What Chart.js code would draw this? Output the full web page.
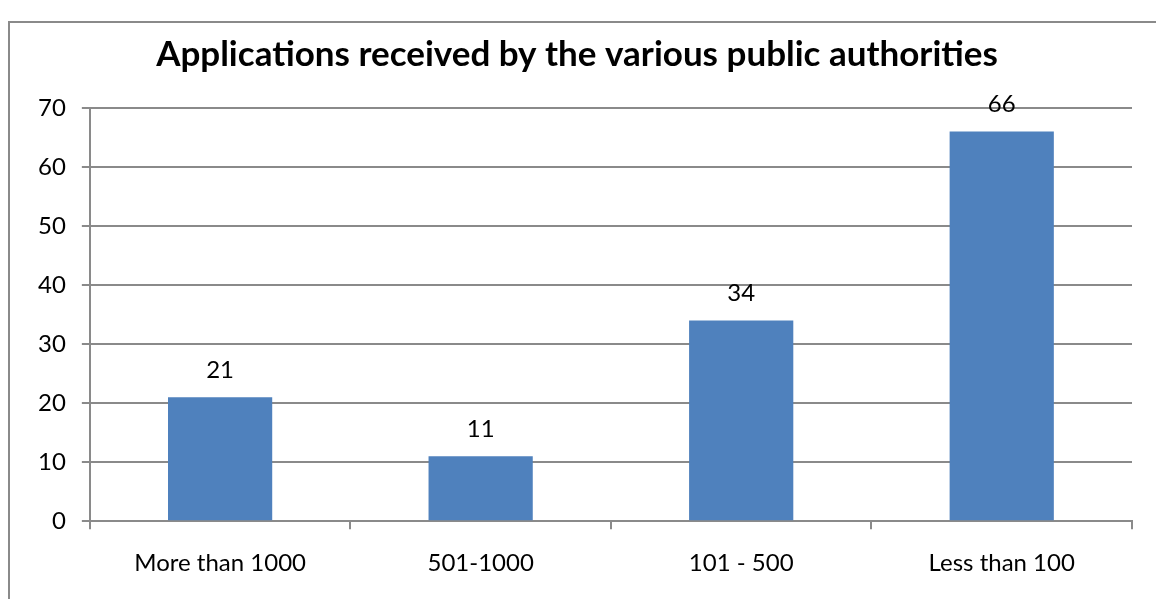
<!DOCTYPE html>
<html>
<head>
<meta charset="utf-8">
<script src="https://cdn.jsdelivr.net/npm/chart.js@4"></script>
<style>
  html, body { margin: 0; padding: 0; background: #fff; overflow: hidden; }
  #frame { position: absolute; left: 8px; top: 21px; width: 1200px; height: 700px; border: 2px solid #8a8a8a; box-sizing: border-box; }
  #wrap { position: absolute; left: 0; top: 0; width: 1156px; height: 599px; }
</style>
</head>
<body>
<div id="frame"></div>
<div id="wrap"><canvas id="barChart"></canvas></div>
<script>
// categories and values
var categories = ["More than 1000", "501-1000", "101 - 500", "Less than 100"];
var applications = [21, 11, 34, 66];
var yTicks = [0, 10, 20, 30, 40, 50, 60, 70];
var barColor = "#4f81bd";
var fontName = "Lato";

// draw the number above each bar
var valueLabels = {
    id: "valueLabels",
    afterDatasetsDraw: function (chart) {
        var ctx = chart.ctx;
        var meta = chart.getDatasetMeta(0);
        ctx.save();
        ctx.font = "24px " + fontName;
        ctx.fillStyle = "#000";
        ctx.textAlign = "center";
        ctx.textBaseline = "middle";
        meta.data.forEach(function (bar, i) {
            ctx.fillText(String(applications[i]), bar.x, bar.y - 27);
        });
        ctx.restore();
    }
};

new Chart("barChart", {
    type: "bar",
    data: {
        labels: categories,
        datasets: [{
            data: applications,
            backgroundColor: barColor,
            borderWidth: 0,
            categoryPercentage: 1,
            barPercentage: 0.4
        }]
    },
    options: {
        responsive: true,
        maintainAspectRatio: false,
        animation: false,
        layout: { padding: { left: 22, right: 24, top: 0, bottom: 1 } },
        plugins: {
            legend: { display: false },
            tooltip: { enabled: false },
            title: {
                display: true,
                text: "Applications received by the various public authorities",
                color: "#000",
                font: { family: fontName, size: 35, weight: "bold" },
                padding: { top: 34, bottom: 32 }
            }
        },
        scales: {
            x: {
                grid: {
                    offset: true,
                    drawOnChartArea: false,
                    tickLength: 8,
                    color: "#8a8a8a",
                    lineWidth: 2
                },
                border: { color: "#8a8a8a", width: 2 },
                ticks: {
                    color: "#000",
                    padding: 20,
                    font: { family: fontName, size: 24 }
                }
            },
            y: {
                min: 0,
                max: 70,
                afterBuildTicks: function (axis) {
                    axis.ticks = yTicks.map(function (v) { return { value: v }; });
                },
                grid: {
                    color: "#8a8a8a",
                    lineWidth: 2,
                    tickLength: 8
                },
                border: { color: "#8a8a8a", width: 2 },
                ticks: {
                    color: "#000",
                    padding: 16,
                    font: { family: fontName, size: 24 }
                }
            }
        }
    },
    plugins: [valueLabels]
});
</script>
</body>
</html>
